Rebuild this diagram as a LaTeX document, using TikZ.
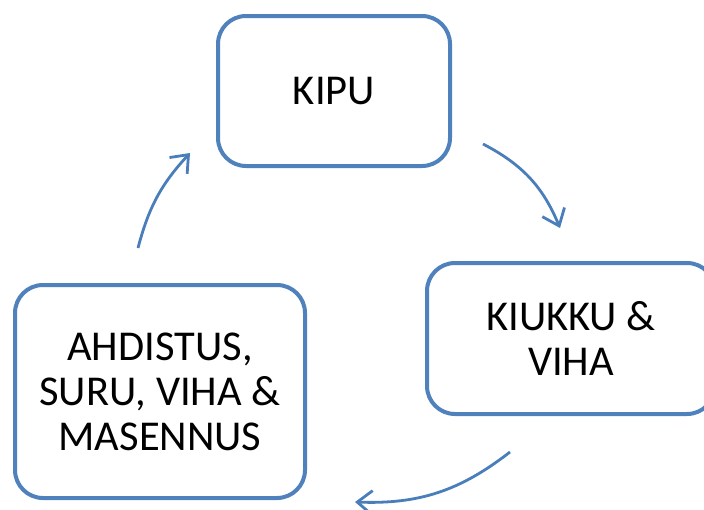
\documentclass[tikz,border=0pt]{standalone}
\usepackage{fontspec}
\setmainfont{Carlito}
\usetikzlibrary{positioning}
\usetikzlibrary{arrows.meta}
\definecolor{boxblue}{RGB}{79,129,189}
\definecolor{arrowblue}{RGB}{74,126,187}

\begin{document}
\begin{tikzpicture}
[x=1pt,y=-1pt,
box/.style={draw=boxblue,line width=4pt,rounded corners=28pt,fill=white,align=center,
  font=\fontsize{42.5}{45}\selectfont,inner sep=0pt},
cycle/.style={arrowblue,line width=2.8pt,-{Straight Barb[length=15pt,width=24pt,line width=2.8pt]}}]
\useasboundingbox (0,0) rectangle (704,509);
\clip (0,0) rectangle (704,509);

\node[box,minimum width=232pt,minimum height=150pt] (kipu) at (334,91) {KIPU};
\node[box,minimum width=288pt,minimum height=151pt] (kiukku) at (571,338.5) {KIUKKU \&\\VIHA};
\node[box,minimum width=290pt,minimum height=213pt] (ahdistus) at (160,391.5) {AHDISTUS,\\SURU, VIHA \&\\MASENNUS};

\coordinate (a1) at (483,144);
\coordinate (a2) at (560,228);
\coordinate (b1) at (510,452);
\coordinate (b2) at (355,502);
\coordinate (c1) at (138,248);
\coordinate (c2) at (190,153);

\draw [cycle] (a1) to [bend left=20] (a2);
\draw [cycle] (b1) to [bend left=20] (b2);
\draw [cycle] (c1) to [bend left=14] (c2);
\end{tikzpicture}
\end{document}
